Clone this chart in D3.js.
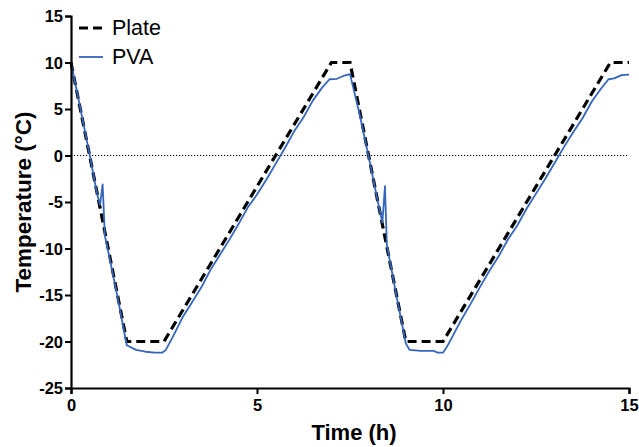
<!DOCTYPE html>
<html>
<head>
<meta charset="utf-8">
<script src="https://cdn.jsdelivr.net/npm/d3@7"></script>
<style>
  html, body { margin: 0; padding: 0; background: #fff; }
  svg { display: block; font-family: Arial, "Liberation Sans", sans-serif; }
</style>
</head>
<body>
<svg id="chart" width="639" height="447"></svg>
<script>
// ---- data ----
const plateTime = [0, 1.5, 2.5, 7, 7.5, 9, 10, 14.5, 15];
const plateTemp = [10, -20, -20, 10, 10, -20, -20, 10, 10];

const pvaTime = [0, 0.25, 0.5, 0.7, 0.78, 0.85, 0.91, 1.0, 1.25, 1.5, 1.75, 2.0, 2.25, 2.45,
  2.55, 2.75, 3.0, 3.25, 3.5, 3.75, 4.0, 4.25, 4.5, 4.75, 5.0, 5.25, 5.5, 5.75, 6.0, 6.25, 6.5, 6.75, 6.95, 7.15, 7.35, 7.5,
  7.75, 8.0, 8.25, 8.37, 8.44, 8.49, 8.75, 9.0, 9.1, 9.4, 9.75, 9.85, 10.0,
  10.1, 10.25, 10.5, 10.75, 11.0, 11.25, 11.5, 11.75, 12.0, 12.25, 12.5, 12.75, 13.0, 13.25, 13.5, 13.75, 14.0, 14.25, 14.45, 14.6, 14.8, 15.0];
const pvaTemp = [10, 5.1, 0.1, -4.1, -5.3, -3.1, -8.6, -10.3, -15.2, -20.4, -20.9, -21.1, -21.2, -21.2,
  -20.9, -19.4, -17.4, -15.8, -14.2, -12.3, -10.7, -9.1, -7.4, -5.6, -4.2, -2.6, -0.9, 0.8, 2.6, 4.1, 5.9, 7.3, 8.2, 8.25, 8.6, 8.75,
  4.6, -0.1, -5.0, -7.2, -3.3, -9.6, -15.1, -20.2, -20.9, -21.0, -21.0, -21.2, -21.2,
  -20.6, -19.5, -17.6, -15.9, -14.1, -12.4, -10.8, -9.0, -7.5, -5.7, -4.1, -2.5, -0.8, 0.9, 2.5, 4.0, 5.8, 7.2, 8.2, 8.3, 8.65, 8.7];

const xTicks = [0, 5, 10, 15];
const yTicks = [-25, -20, -15, -10, -5, 0, 5, 10, 15];
const seriesNames = ["Plate", "PVA"];

// ---- layout ----
const svg = d3.select("#chart");
const mLeft = 71, mRight = 629, mTop = 16, mBottom = 388;

const x = d3.scaleLinear().domain([0, 15]).range([mLeft, mRight]);
const y = d3.scaleLinear().domain([-25, 15]).range([mBottom, mTop]);

// zero reference line
svg.append("line")
  .attr("x1", x(0)).attr("x2", x(15))
  .attr("y1", y(0)).attr("y2", y(0))
  .attr("stroke", "#000").attr("stroke-width", 1)
  .attr("stroke-dasharray", "1.2,1.8");

const line = d3.line().x(d => x(d[0])).y(d => y(d[1]));

const plateData = plateTime.map((t, i) => [t, plateTemp[i]]);
const pvaData = pvaTime.map((t, i) => [t, pvaTemp[i]]);

svg.append("path").datum(plateData)
  .attr("d", line).attr("fill", "none")
  .attr("stroke", "#000").attr("stroke-width", 3.2)
  .attr("stroke-dasharray", "9,5");

svg.append("path").datum(pvaData)
  .attr("d", line).attr("fill", "none")
  .attr("stroke", "#3366bb").attr("stroke-width", 1.8)
  .attr("stroke-linejoin", "round");

// axes
const xAxis = svg.append("g").attr("transform", `translate(0,${mBottom})`)
  .call(d3.axisBottom(x).tickValues(xTicks).tickFormat(d3.format("d")).tickSize(6).tickPadding(5));
const yAxis = svg.append("g").attr("transform", `translate(${mLeft},0)`)
  .call(d3.axisLeft(y).tickValues(yTicks).tickFormat(d => d < 0 ? "-" + Math.abs(d) : d).tickSize(6).tickPadding(2));

[xAxis, yAxis].forEach(g => {
  g.select(".domain").attr("stroke", "#000").attr("stroke-width", 2.2);
  g.selectAll(".tick line").attr("stroke", "#000").attr("stroke-width", 2);
  g.selectAll(".tick text").attr("fill", "#000")
    .style("font-size", "16.5px").style("font-weight", "bold")
    .style("font-family", "Arial, 'Liberation Sans', sans-serif");
});
xAxis.selectAll(".tick text").attr("dy", null).attr("y", 23);
yAxis.selectAll(".tick text").attr("dy", "0.36em");

// axis titles
svg.append("text")
  .attr("x", (mLeft + mRight) / 2 + 4).attr("y", 440)
  .attr("text-anchor", "middle")
  .style("font-size", "22px").style("font-weight", "bold")
  .text("Time (h)");

svg.append("text")
  .attr("transform", `translate(31,${(mTop + mBottom) / 2}) rotate(-90)`)
  .attr("text-anchor", "middle")
  .style("font-size", "22.5px").style("font-weight", "bold")
  .text("Temperature (°C)");

// legend
const legend = svg.append("g");
const legendY = [28, 57];
legend.append("line").attr("x1", 79).attr("x2", 103).attr("y1", legendY[0]).attr("y2", legendY[0])
  .attr("stroke", "#000").attr("stroke-width", 3.2).attr("stroke-dasharray", "9,5");
legend.append("line").attr("x1", 79).attr("x2", 103).attr("y1", legendY[1]).attr("y2", legendY[1])
  .attr("stroke", "#3366bb").attr("stroke-width", 1.8);
seriesNames.forEach((n, i) => {
  legend.append("text").attr("x", 112).attr("y", legendY[i] + 7)
    .style("font-size", "21.5px").text(n);
});
</script>
</body>
</html>
